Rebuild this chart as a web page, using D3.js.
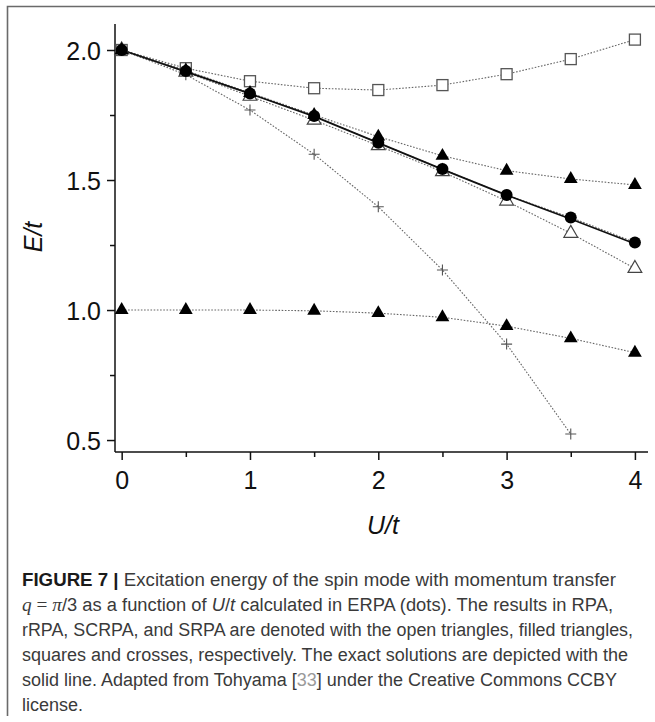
<!DOCTYPE html>
<html>
<head>
<meta charset="utf-8">
<script src="https://cdn.jsdelivr.net/npm/d3@7"></script>
<style>
  html, body { margin: 0; padding: 0; background: #fff; }
  svg { display: block; }
</style>
</head>
<body>
<svg id="fig" width="655" height="722"></svg>
<script>
// U/t grid shared by every method
const uValues = [0, 0.5, 1, 1.5, 2, 2.5, 3, 3.5, 4];

// Excitation energies E/t for each method
const exact = [2.0, 1.917, 1.832, 1.745, 1.643, 1.541, 1.442, 1.350, 1.255];
const erpa  = [2.0, 1.919, 1.833, 1.746, 1.643, 1.542, 1.442, 1.356, 1.260];
const rpa   = [2.0, 1.915, 1.822, 1.730, 1.632, 1.532, 1.419, 1.295, 1.160];
const rrpaUpper = [2.0, 1.921, 1.835, 1.750, 1.667, 1.593, 1.536, 1.504, 1.481];
const rrpaLower = [1.0, 1.0, 1.0, 0.997, 0.988, 0.972, 0.938, 0.891, 0.836];
const scrpa = [2.0, 1.930, 1.880, 1.853, 1.846, 1.865, 1.907, 1.965, 2.040];
const srpa  = [2.0, 1.905, 1.769, 1.599, 1.397, 1.154, 0.869, 0.523];

const xTicks = [0, 1, 2, 3, 4];
const xMinorTicks = [0.5, 1.5, 2.5, 3.5];
const yTicks = [0.5, 1.0, 1.5, 2.0];
const yMinorTicks = [0.75, 1.25, 1.75];

const svg = d3.select("#fig");

// frame around the figure
svg.append("path")
  .attr("d", "M7.5,716 V6.5 H655")
  .attr("fill", "none")
  .attr("stroke", "#6a6a6a")
  .attr("stroke-width", 1.6);

const x = d3.scaleLinear().domain([-0.052, 4.102]).range([115, 648]);
const y = d3.scaleLinear().domain([0.454, 2.1]).range([452, 24]);

const tickFont = "'Liberation Sans', Arial, sans-serif";

// x axis with major and minor ticks
const xAxis = svg.append("g").attr("transform", `translate(0,${y.range()[0]})`);
xAxis.call(d3.axisBottom(x).tickValues(xTicks).tickFormat(d3.format("d")).tickSize(8).tickPadding(5));
xAxis.append("g").call(d3.axisBottom(x).tickValues(xMinorTicks).tickFormat("").tickSize(5))
  .select(".domain").remove();

// y axis with major and minor ticks
const yAxis = svg.append("g").attr("transform", `translate(${x.range()[0]},0)`);
yAxis.call(d3.axisLeft(y).tickValues(yTicks).tickFormat(d3.format(".1f")).tickSize(8).tickPadding(6));
yAxis.append("g").call(d3.axisLeft(y).tickValues(yMinorTicks).tickFormat("").tickSize(5))
  .select(".domain").remove();

svg.selectAll(".domain").attr("stroke", "#111").attr("stroke-width", 1.5);
svg.selectAll(".tick line").attr("stroke", "#111").attr("stroke-width", 1.5);
svg.selectAll(".tick text")
  .attr("font-family", tickFont)
  .attr("font-size", 25)
  .attr("fill", "#111");
xAxis.selectAll(".tick text").attr("dy", "0.95em");
yAxis.selectAll(".tick text").attr("dy", "0.36em");

// plain domain lines without end caps
xAxis.select(".domain").attr("d", `M${x.range()[0]},0H${x.range()[1]}`);
yAxis.select(".domain").attr("d", `M0,${y.range()[0]}V${y.range()[1]}`);

// axis titles
svg.append("text")
  .attr("x", 383).attr("y", 534)
  .attr("text-anchor", "middle")
  .attr("font-family", tickFont)
  .attr("font-style", "italic")
  .attr("font-size", 25)
  .attr("fill", "#111")
  .text("U/t");

svg.append("text")
  .attr("transform", "translate(42,237) rotate(-90)")
  .attr("text-anchor", "middle")
  .attr("font-family", tickFont)
  .attr("font-style", "italic")
  .attr("font-size", 25)
  .attr("fill", "#111")
  .text("E/t");

const plot = svg.append("g");

const line = d3.line().x((d, i) => x(uValues[i])).y(d => y(d));

// dotted connectors for the approximate methods
[scrpa, srpa, rpa, rrpaUpper, rrpaLower, erpa].forEach(series => {
  plot.append("path")
    .attr("d", line(series))
    .attr("fill", "none")
    .attr("stroke", "#666")
    .attr("stroke-width", 1.1)
    .attr("stroke-dasharray", "1.6,1.6");
});

// exact solution
plot.append("path")
  .attr("d", line(exact))
  .attr("fill", "none")
  .attr("stroke", "#111")
  .attr("stroke-width", 1.8);

// SCRPA: open squares
plot.selectAll(".sq").data(scrpa).enter().append("rect")
  .attr("x", (d, i) => x(uValues[i]) - 5.5)
  .attr("y", d => y(d) - 5.5)
  .attr("width", 11).attr("height", 11)
  .attr("fill", "#fff")
  .attr("stroke", "#555")
  .attr("stroke-width", 1.3);

// SRPA: crosses
plot.selectAll(".cr").data(srpa).enter().append("path")
  .attr("transform", (d, i) => `translate(${x(uValues[i])},${y(d)})`)
  .attr("d", "M-5.5,0H5.5M0,-5.5V5.5")
  .attr("fill", "none")
  .attr("stroke", "#555")
  .attr("stroke-width", 1.1);

// RPA: open triangles
const tri = d3.symbol().type(d3.symbolTriangle).size(82);
plot.selectAll(".ot").data(rpa).enter().append("path")
  .attr("transform", (d, i) => `translate(${x(uValues[i])},${y(d)})`)
  .attr("d", tri())
  .attr("fill", "#fff")
  .attr("stroke", "#444")
  .attr("stroke-width", 1.2);

// rRPA: filled triangles, both branches
[rrpaUpper, rrpaLower].forEach(series => {
  plot.selectAll(null).data(series).enter().append("path")
    .attr("transform", (d, i) => `translate(${x(uValues[i])},${y(d)})`)
    .attr("d", tri())
    .attr("fill", "#000");
});

// ERPA: filled dots
plot.selectAll(".dot").data(erpa).enter().append("circle")
  .attr("cx", (d, i) => x(uValues[i]))
  .attr("cy", d => y(d))
  .attr("r", 6)
  .attr("fill", "#000");

// caption
const capFont = "'Liberation Sans', Arial, sans-serif";
const mathFont = "'Liberation Serif', 'DejaVu Serif', serif";
const caption = svg.append("g")
  .attr("font-family", capFont)
  .attr("font-size", 18)
  .attr("fill", "#3a3a3a");

const lines = [
  { y: 586, len: 594, parts: [
      { t: "FIGURE 7 |", w: "bold", fill: "#1a1a1a" },
      { t: " Excitation energy of the spin mode with momentum transfer" } ] },
  { y: 611, len: 591, parts: [
      { t: "q", it: true, math: true },
      { t: " = ", math: true },
      { t: "π", it: true, math: true },
      { t: "/3 as a function of " },
      { t: "U", it: true },
      { t: "/" },
      { t: "t", it: true },
      { t: " calculated in ERPA (dots). The results in RPA," } ] },
  { y: 636, len: 611, parts: [
      { t: "rRPA, SCRPA, and SRPA are denoted with the open triangles, filled triangles," } ] },
  { y: 661, len: 606, parts: [
      { t: "squares and crosses, respectively. The exact solutions are depicted with the" } ] },
  { y: 686, len: 595, parts: [
      { t: "solid line. Adapted from Tohyama [" },
      { t: "33", fill: "#9a9a9a" },
      { t: "] under the Creative Commons CCBY" } ] },
  { y: 711, len: null, parts: [ { t: "license." } ] }
];

lines.forEach(l => {
  const t = caption.append("text").attr("x", 22).attr("y", l.y);
  if (l.len) t.attr("textLength", l.len).attr("lengthAdjust", "spacingAndGlyphs");
  l.parts.forEach(p => {
    const s = t.append("tspan").text(p.t);
    if (p.w) s.attr("font-weight", p.w);
    if (p.it) s.attr("font-style", "italic");
    if (p.math) s.attr("font-family", mathFont).attr("font-size", 19);
    if (p.fill) s.attr("fill", p.fill);
  });
});
</script>
</body>
</html>
